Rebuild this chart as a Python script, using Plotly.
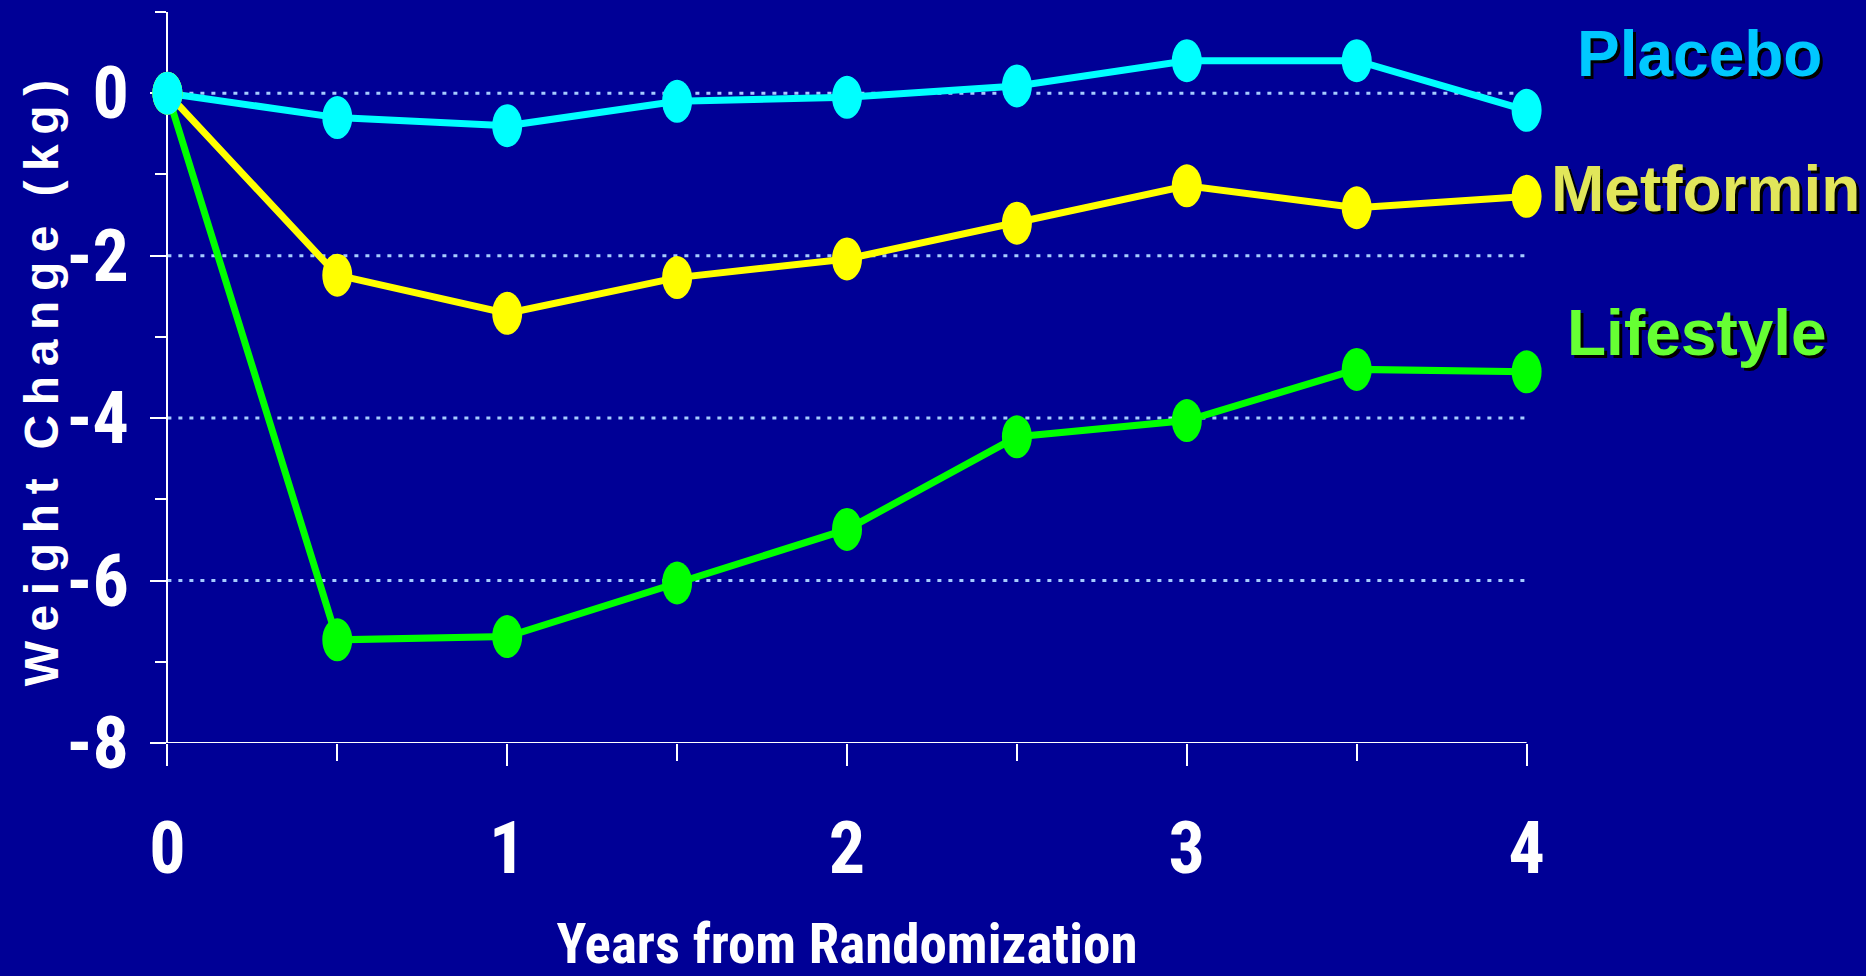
import plotly.graph_objects as go

# ---------------- data ----------------
YEARS = [0, 0.5, 1, 1.5, 2, 2.5, 3, 3.5, 4]
PLACEBO = [0.0, -0.30, -0.40, -0.10, -0.05, 0.09, 0.40, 0.40, -0.21]
METFORMIN = [0.0, -2.24, -2.71, -2.27, -2.04, -1.60, -1.14, -1.41, -1.27]
LIFESTYLE = [0.0, -6.73, -6.69, -6.03, -5.37, -4.23, -4.03, -3.40, -3.43]

SERIES_NAMES = ["Lifestyle", "Metformin", "Placebo"]
SERIES_VALUES = [LIFESTYLE, METFORMIN, PLACEBO]
LINE_COLORS = ["#00FF00", "#FFFF00", "#00FFFF"]
LABEL_COLORS = ["#66FF33", "#E1E65A", "#00C8FF"]
LABEL_POS = [(1.107, 0.561), (1.113, 0.758), (1.109, 0.9425)]  # paper coords

X_TICKS = [0, 1, 2, 3, 4]
X_TICK_LABELS = ["0", "1", "2", "3", "4"]
X_MINOR = [0.5, 1.5, 2.5, 3.5]
Y_TICKS = [0, -2, -4, -6, -8]
Y_TICK_LABELS = ["0", "-2", "-4", "-6", "-8"]
Y_MINOR = [1, -1, -3, -5, -7]
GRID_Y = [0, -2, -4, -6]

X_TITLE = "Years from Randomization"
Y_TITLE = "\u2009\u2009\u2009".join(["\u2009".join(w) for w in ["Weight", "Change", "(kg)"]])

# ---------------- style ----------------
BG = "#000096"
X_RANGE = [-0.06, 4.06]
Y_RANGE = [-8, 1]
TICK_FONT = dict(family="Roboto Condensed", size=72, color="white", weight="bold")

fig = go.Figure()

for name, vals, col in zip(SERIES_NAMES, SERIES_VALUES, LINE_COLORS):
    fig.add_trace(go.Scatter(x=YEARS, y=vals, mode="lines", name=name,
                             line=dict(color=col, width=7), showlegend=False))

# dotted gridlines spanning the data range only
for gy in GRID_Y:
    fig.add_shape(type="line", xref="x", yref="y", x0=X_TICKS[0], x1=X_TICKS[-1], y0=gy, y1=gy,
                  line=dict(color="#A6CCFF", width=3, dash="4px,7px"), layer="below")

# x axis line from 0 to 4
fig.add_shape(type="line", xref="x", yref="y", x0=X_TICKS[0], x1=X_TICKS[-1], y0=Y_RANGE[0], y1=Y_RANGE[0],
              line=dict(color="white", width=2), layer="above")

# elliptical markers
for vals, col in zip(SERIES_VALUES, LINE_COLORS):
    for xv, yv in zip(YEARS, vals):
        fig.add_shape(type="circle", xref="x", yref="y", xsizemode="pixel", ysizemode="pixel",
                      xanchor=xv, yanchor=yv, x0=-15, x1=15, y0=-21.5, y1=21.5,
                      fillcolor=col, line=dict(width=0), layer="above")

for name, col, (lx, ly) in zip(SERIES_NAMES, LABEL_COLORS, LABEL_POS):
    fig.add_annotation(x=lx, y=ly, xref="paper", yref="paper", text=name, showarrow=False,
                       xanchor="center", yanchor="middle",
                       font=dict(family="Liberation Sans, Arial", size=64, color=col, weight="bold",
                                 shadow="3px 3px 0px black"))

# y-axis title
fig.add_annotation(x=0, y=0.492, xref="paper", yref="paper", xshift=-106, text=Y_TITLE,
                   textangle=-90, showarrow=False, xanchor="center", yanchor="middle",
                   font=dict(family="Liberation Sans, Arial", size=48, color="white", weight="bold"))

ypos = (0 - X_RANGE[0]) / (X_RANGE[1] - X_RANGE[0])

fig.update_layout(
    width=1866, height=976,
    paper_bgcolor=BG, plot_bgcolor=BG,
    margin=dict(l=147, r=319, t=12, b=233, autoexpand=False),
    showlegend=False,
    xaxis=dict(range=X_RANGE, showgrid=False, zeroline=False, showline=False, automargin=False,
               tickmode="array", tickvals=X_TICKS, ticktext=X_TICK_LABELS,
               ticks="outside", ticklen=22, tickwidth=2, tickcolor="white",
               minor=dict(tickmode="array", tickvals=X_MINOR, ticks="outside", ticklen=17,
                          tickwidth=2, tickcolor="white", showgrid=False),
               tickfont=TICK_FONT, ticklabelstandoff=21,
               title=dict(text=X_TITLE, standoff=39,
                          font=dict(family="Roboto Condensed", size=55, color="white", weight="bold"))),
    yaxis=dict(range=Y_RANGE, anchor="free", position=ypos, showgrid=False, zeroline=False,
               showline=True, linecolor="white", linewidth=2, automargin=False,
               tickmode="array", tickvals=Y_TICKS, ticktext=Y_TICK_LABELS,
               ticks="outside", ticklen=16, tickwidth=2, tickcolor="white",
               minor=dict(tickmode="array", tickvals=Y_MINOR, ticks="outside", ticklen=11,
                          tickwidth=2, tickcolor="white", showgrid=False),
               tickfont=TICK_FONT, ticklabelstandoff=7),
)

fig.write_html("out.html", config={"displayModeBar": False},
               post_script="document.body.style.margin='0px';document.body.style.overflow='hidden';")
